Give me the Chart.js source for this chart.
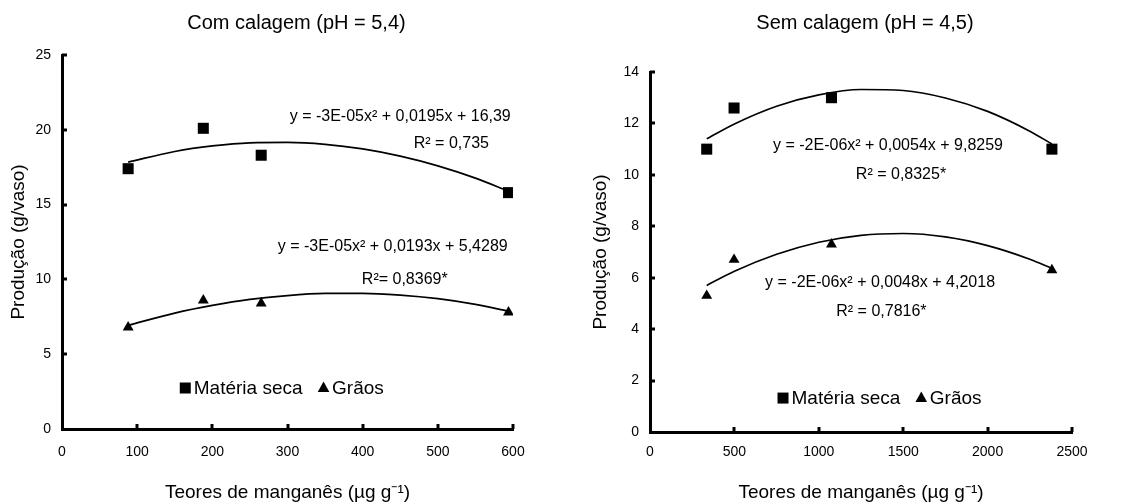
<!DOCTYPE html>
<html><head><meta charset="utf-8">
<script src="https://cdn.jsdelivr.net/npm/chart.js@4.4.0/dist/chart.umd.min.js"></script>
<style>
html,body{margin:0;padding:0;background:#fff;}
#wrap{position:relative;width:1132px;height:502px;overflow:hidden;background:#fff;}
canvas{position:absolute;top:0;}
#c1{left:0;} #c2{left:566px;}
</style></head><body>
<div id="wrap"><canvas id="c1" width="566" height="502"></canvas><canvas id="c2" width="566" height="502"></canvas></div>
<script>
// ---- Data ----
const seriesNames = ['Matéria seca', 'Grãos'];

// Com calagem (pH = 5,4)
const leftTitle = 'Com calagem (pH = 5,4)';
const leftMn = [88, 188, 265, 594];
const leftMateria = [17.4, 20.1, 18.3, 15.8];
const leftGraos = [6.8, 8.6, 8.4, 7.8];
const leftTrendMn = [88, 150, 200, 250, 300, 350, 400, 450, 500, 550, 594];
const leftTrendMateria = [17.84, 18.55, 18.92, 19.13, 19.16, 19.03, 18.72, 18.24, 17.59, 16.77, 15.9];
const leftTrendGraos = [6.93, 7.75, 8.26, 8.66, 8.92, 9.06, 9.07, 8.95, 8.71, 8.33, 7.88];
const leftEquations = ['y = -3E-05x² + 0,0195x + 16,39', 'R² = 0,735', 'y = -3E-05x² + 0,0193x + 5,4289', 'R²= 0,8369*'];

// Sem calagem (pH = 4,5)
const rightTitle = 'Sem calagem (pH = 4,5)';
const rightMn = [336, 498, 1075, 2381];
const rightMateria = [11.0, 12.6, 13.0, 11.0];
const rightGraos = [5.3, 6.7, 7.3, 6.3];
const rightTrendMn = [336, 500, 750, 1000, 1250, 1500, 1750, 2000, 2250, 2381];
const rightTrendMateria = [11.40, 11.98, 12.67, 13.11, 13.32, 13.28, 12.99, 12.47, 11.70, 11.20];
const rightTrendGraos = [5.70, 6.25, 6.91, 7.38, 7.65, 7.72, 7.59, 7.25, 6.72, 6.36];
const rightEquations = ['y = -2E-06x² + 0,0054x + 9,8259', 'R² = 0,8325*', 'y = -2E-06x² + 0,0048x + 4,2018', 'R² = 0,7816*'];

const xAxisTitle = 'Teores de manganês (µg g⁻¹)';
const yAxisTitle = 'Produção (g/vaso)';

// ---- Rendering ----
const FONT = '"Liberation Sans", Arial, Helvetica, sans-serif';
Chart.defaults.font.family = FONT;
Chart.defaults.color = '#000';

function pts(xs, ys) { return xs.map((x, i) => ({x: x, y: ys[i]})); }

function drawMarker(ctx, style, x, y) {
  ctx.beginPath();
  if (style === 'rect') {
    ctx.rect(x - 5.5, y - 5.5, 11, 11);
  } else {
    ctx.moveTo(x, y - 6.5);
    ctx.lineTo(x + 5.8, y + 4);
    ctx.lineTo(x - 5.8, y + 4);
    ctx.closePath();
  }
  ctx.fill();
}

const deco = {
  id: 'deco',
  afterDraw(chart, args, o) {
    const ctx = chart.ctx, ca = chart.chartArea, xs = chart.scales.x, ys = chart.scales.y;
    ctx.save();
    ctx.strokeStyle = '#000';
    ctx.fillStyle = '#000';
    ctx.lineWidth = 3;
    xs.ticks.forEach(t => {
      if (t.value === xs.min) return;
      const p = Math.round(xs.getPixelForValue(t.value));
      ctx.beginPath(); ctx.moveTo(p, ca.bottom); ctx.lineTo(p, ca.bottom - 5); ctx.stroke();
    });
    ys.ticks.forEach(t => {
      if (t.value === ys.min) return;
      const p = Math.round(ys.getPixelForValue(t.value));
      ctx.beginPath(); ctx.moveTo(ca.left, p); ctx.lineTo(ca.left + 5, p); ctx.stroke();
    });
    // chart title
    ctx.textAlign = 'center';
    ctx.textBaseline = 'middle';
    ctx.font = '20px ' + FONT;
    ctx.fillText(o.title, (ca.left + ca.right) / 2 + o.titleDx, o.titleY);
    // regression equations
    ctx.font = '16px ' + FONT;
    o.equations.forEach((txt, i) => {
      const pos = o.eqPos[i];
      ctx.fillText(txt, xs.getPixelForValue(pos[0]), ys.getPixelForValue(pos[1]));
    });
    // legend
    ctx.font = '19px ' + FONT;
    ctx.textAlign = 'left';
    let lx = xs.getPixelForValue(o.legendPos[0]);
    const ly = ys.getPixelForValue(o.legendPos[1]);
    chart.data.datasets.filter(d => d.isSeries).forEach((d, i) => {
      drawMarker(ctx, d.pointStyle, lx, ly);
      lx += 8.5;
      ctx.fillText(d.label, lx, ly + 1);
      lx += ctx.measureText(d.label).width + 21;
    });
    ctx.restore();
  }
};

function makeChart(id, c) {
  return new Chart(document.getElementById(id), {
    type: 'scatter',
    data: {
      datasets: [
        {label: seriesNames[0], isSeries: true, data: pts(c.mn, c.materia), pointStyle: 'rect', pointRadius: 7.8, pointBackgroundColor: '#000', pointBorderWidth: 0, showLine: false},
        {label: seriesNames[1], isSeries: true, data: pts(c.mn, c.graos), pointStyle: 'triangle', pointRadius: 6.3, pointBackgroundColor: '#000', pointBorderWidth: 0, showLine: false},
        {label: 'trend1', data: pts(c.tmn, c.tmateria), showLine: true, pointRadius: 0, borderColor: '#000', borderWidth: 1.7, cubicInterpolationMode: 'monotone'},
        {label: 'trend2', data: pts(c.tmn, c.tgraos), showLine: true, pointRadius: 0, borderColor: '#000', borderWidth: 1.7, cubicInterpolationMode: 'monotone'}
      ]
    },
    options: {
      responsive: false,
      animation: false,
      devicePixelRatio: 1,
      layout: {padding: {left: 0, right: c.padRight, top: c.padTop, bottom: 0}},
      plugins: {
        legend: {display: false},
        tooltip: {enabled: false},
        title: {display: false},
        deco: {title: c.title, titleDx: c.titleDx, titleY: c.titleY, equations: c.equations, eqPos: c.eqPos, legendPos: c.legendPos}
      },
      scales: {
        x: {
          type: 'linear', min: 0, max: c.xMax,
          ticks: {stepSize: c.xStep, padding: c.xTickPad, font: {size: 14}, color: '#000', callback: v => String(v)},
          grid: {display: true, drawOnChartArea: false, drawTicks: false},
          border: {display: true, color: '#000', width: 3},
          title: {display: true, text: xAxisTitle, font: {size: 19, lineHeight: 1}, padding: {top: 0, bottom: 0}, color: '#000'},
          afterFit: s => { s.height = c.xHeight; }
        },
        y: {
          type: 'linear', min: 0, max: c.yMax,
          ticks: {stepSize: c.yStep, padding: 11, font: {size: 14}, color: '#000', callback: v => String(v)},
          grid: {display: true, drawOnChartArea: false, drawTicks: false},
          border: {display: true, color: '#000', width: 3},
          title: {display: true, text: yAxisTitle, font: {size: 19, lineHeight: 1}, padding: {top: c.yTitlePad, bottom: 0}, color: '#000'},
          afterFit: s => { s.width = c.yWidth; }
        }
      }
    },
    plugins: [deco]
  });
}

makeChart('c1', {
  title: leftTitle, titleDx: 9, titleY: 23,
  mn: leftMn, materia: leftMateria, graos: leftGraos,
  tmn: leftTrendMn, tmateria: leftTrendMateria, tgraos: leftTrendGraos,
  equations: leftEquations,
  eqPos: [[450, 20.9], [518, 19.1], [440, 12.2], [456, 10.0]],
  legendPos: [164, 2.74],
  xMax: 600, xStep: 100, yMax: 25, yStep: 5,
  padRight: 53, padTop: 55, xHeight: 73, xTickPad: 15, yWidth: 62, yTitlePad: 9.5
});

makeChart('c2', {
  title: rightTitle, titleDx: 4, titleY: 23,
  mn: rightMn, materia: rightMateria, graos: rightGraos,
  tmn: rightTrendMn, tmateria: rightTrendMateria, tgraos: rightTrendGraos,
  equations: rightEquations,
  eqPos: [[1410, 11.12], [1487, 10.0], [1363, 5.8], [1371, 4.7]],
  legendPos: [788, 1.32],
  xMax: 2500, xStep: 500, yMax: 14, yStep: 2,
  padRight: 60, padTop: 72, xHeight: 70, xTickPad: 12, yWidth: 84, yTitlePad: 25.5
});
</script></body></html>
